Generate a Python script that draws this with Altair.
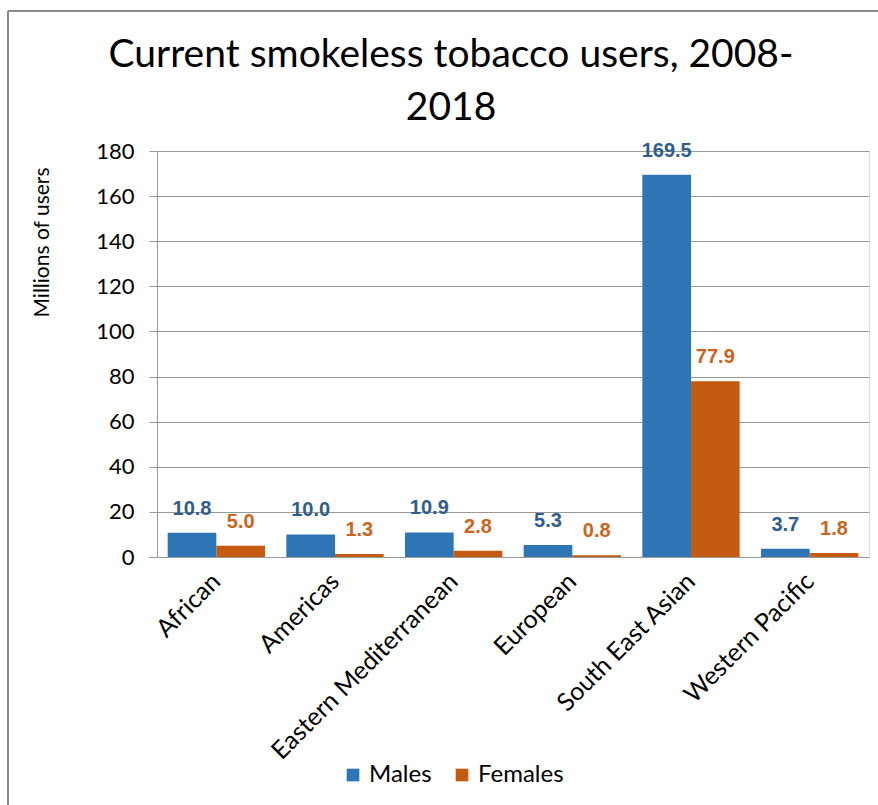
import altair as alt
import pandas as pd

regions = ["African", "Americas", "Eastern Mediterranean", "European",
           "South East Asian", "Western Pacific"]
males = [10.8, 10.0, 10.9, 5.3, 169.5, 3.7]
females = [5.0, 1.3, 2.8, 0.8, 77.9, 1.8]
series = ["Males", "Females"]
bar_colors = ["#2E75B6", "#C55A11"]
label_colors = ["#2F5D8C", "#CB6420"]
title_lines = ["Current smokeless tobacco users, 2008-", "2018"]

rows = []
for r, m, f in zip(regions, males, females):
    rows.append({"region": r, "sex": "Males", "value": m})
    rows.append({"region": r, "sex": "Females", "value": f})
df = pd.DataFrame(rows)

FONT = "Lato"

x_enc = alt.X("region:N", sort=regions,
              scale=alt.Scale(paddingInner=0.18, paddingOuter=0.09),
              axis=alt.Axis(title=None, labelAngle=-45, labelAlign="right",
                            labelBaseline="middle", labelFontSize=25,
                            labelFont=FONT, labelColor="#000000",
                            labelPadding=20, ticks=False, domain=True,
                            domainColor="#999999", labelLimit=400))
xo_enc = alt.XOffset("sex:N", sort=series,
                     scale=alt.Scale(paddingInner=0, paddingOuter=0))
y_enc = alt.Y("value:Q",
              scale=alt.Scale(domain=[0, 180], nice=False),
              axis=alt.Axis(title="Millions of users", values=list(range(0, 181, 20)),
                            titleFont=FONT, titleFontSize=21, titleFontWeight="normal",
                            titleColor="#000000", titleAngle=-90,
                            titleX=-115, titleY=91, titleAlign="center",
                            titleBaseline="middle",
                            labelFont=FONT, labelFontSize=22, labelColor="#000000",
                            labelPadding=15, tickSize=8, tickColor="#999999",
                            domainColor="#999999", gridColor="#999999",
                            grid=True))

base = alt.Chart(df).encode(x=x_enc, xOffset=xo_enc, y=y_enc)

bars = base.mark_bar().encode(
    color=alt.Color("sex:N", sort=series,
                    scale=alt.Scale(domain=series, range=bar_colors),
                    legend=alt.Legend(title=None, orient="none", legendX=184,
                                      legendY=612, direction="horizontal",
                                      symbolType="square", symbolSize=160,
                                      symbolStrokeWidth=0, labelFont=FONT,
                                      labelFontSize=24, labelColor="#000000",
                                      columnPadding=18, labelOffset=4))
)

labels = base.mark_text(baseline="bottom", dy=-14, font="Liberation Sans",
                        fontWeight="bold", fontSize=20).encode(
    text=alt.Text("value:Q", format=".1f"),
    color=alt.Color("sex:N", sort=series,
                    scale=alt.Scale(domain=series, range=label_colors),
                    legend=None)
)

frame_df = pd.DataFrame({"k": [0]})
top_line = alt.Chart(frame_df).mark_rule(color="#8a8a8a", strokeWidth=2).encode(
    x=alt.value(-149), x2=alt.value(730), y=alt.value(-140))
left_line = alt.Chart(frame_df).mark_rule(color="#8a8a8a", strokeWidth=2).encode(
    x=alt.value(-149), y=alt.value(-140), y2=alt.value(660))
title = alt.Chart(frame_df).mark_text(
    text=title_lines, font=FONT, fontSize=39, lineHeight=53,
    align="center", baseline="alphabetic", color="#000000").encode(
    x=alt.value(294), y=alt.value(-84))

chart = alt.layer(bars, labels, top_line, left_line, title).resolve_scale(
    color="independent"
).properties(
    width=712, height=406,
    autosize=alt.AutoSizeParams(type="none"),
    padding={"left": 157, "top": 151, "right": 9, "bottom": 248},
).configure_view(stroke=None).configure(background="white")

chart.save("out.html", embed_options={"renderer": "svg", "actions": False})
